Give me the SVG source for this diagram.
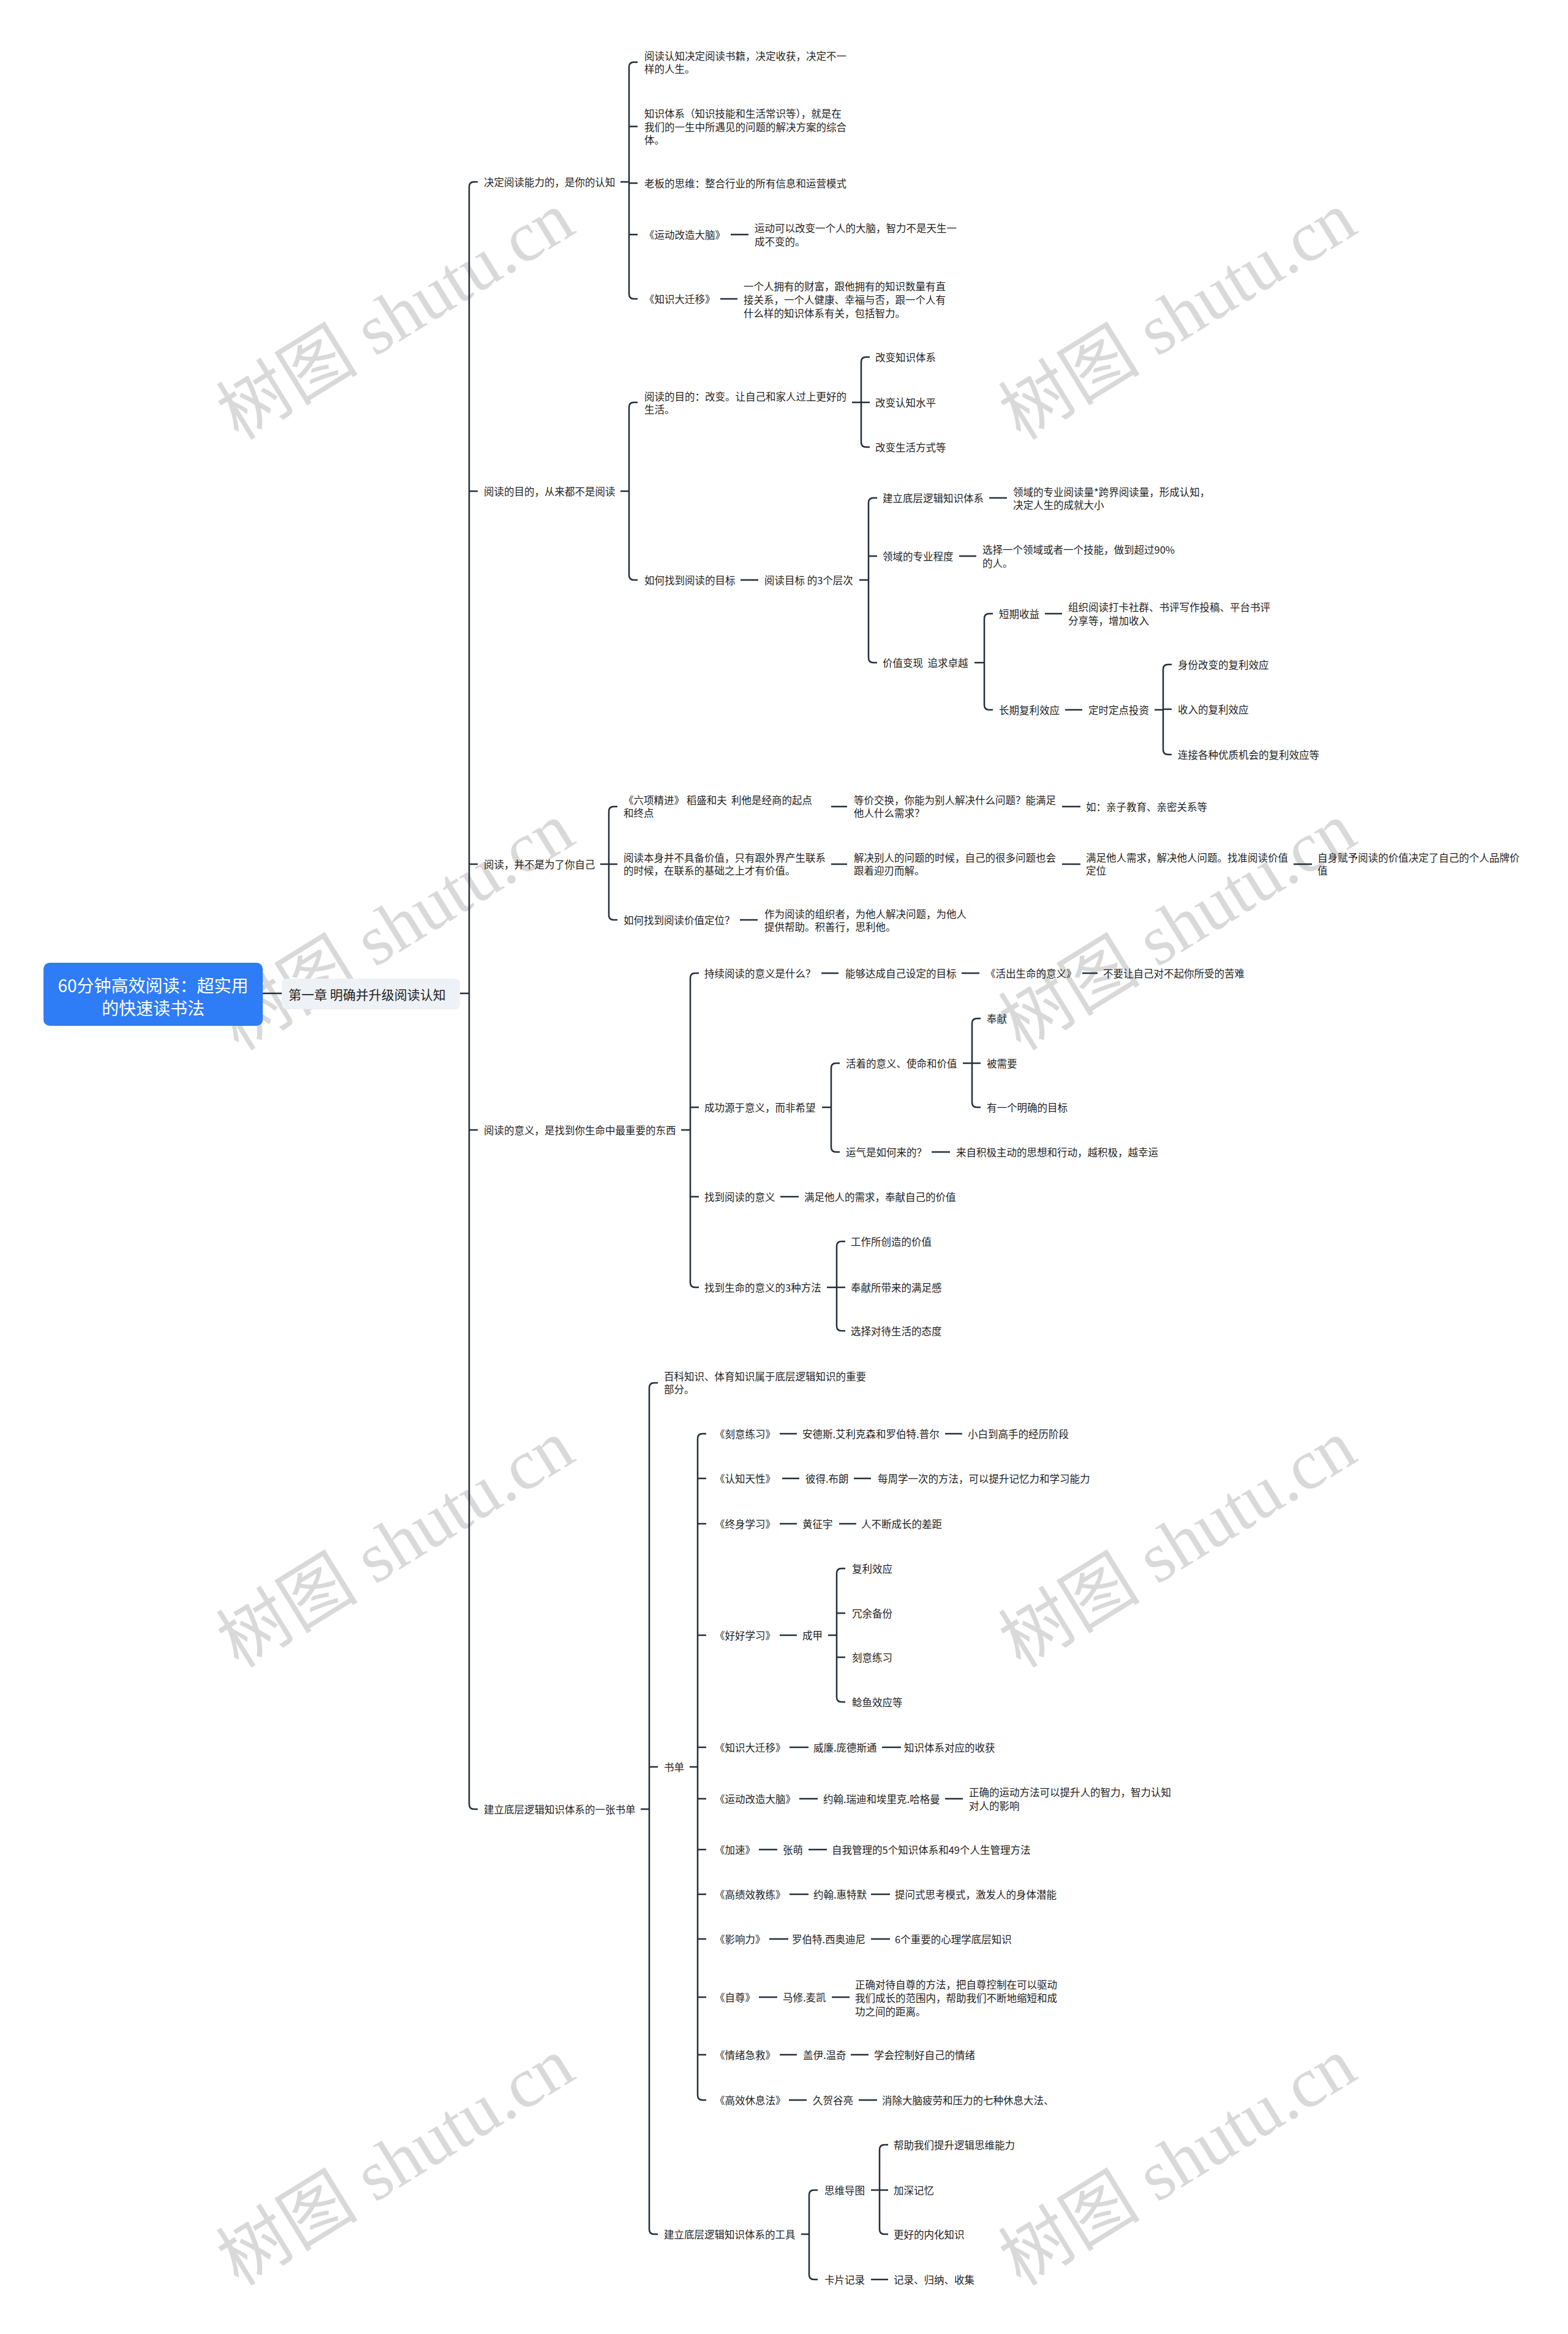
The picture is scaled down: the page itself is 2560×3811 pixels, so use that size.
<svg xmlns="http://www.w3.org/2000/svg" width="2560" height="3811" viewBox="0 0 2560 3811">
<style>
.t{font-family:"Noto Sans CJK SC","Noto Sans",sans-serif;font-size:16.5px;fill:#1e1e1e;dominant-baseline:central}
.c path{fill:none;stroke:#232e3b;stroke-width:2.5}
.wm{font-family:"Liberation Serif","Noto Sans CJK SC",serif;font-size:116px;fill:#d9d9d9}
</style>
<rect width="2560" height="3811" fill="#fff"/>
<g id="watermark">
<text class="wm" text-anchor="middle" dominant-baseline="central" transform="translate(646 516) rotate(-31.7)">树图 shutu.cn</text>
<text class="wm" text-anchor="middle" dominant-baseline="central" transform="translate(1923 516) rotate(-31.7)">树图 shutu.cn</text>
<text class="wm" text-anchor="middle" dominant-baseline="central" transform="translate(646 1513) rotate(-31.7)">树图 shutu.cn</text>
<text class="wm" text-anchor="middle" dominant-baseline="central" transform="translate(1923 1513) rotate(-31.7)">树图 shutu.cn</text>
<text class="wm" text-anchor="middle" dominant-baseline="central" transform="translate(646 2521) rotate(-31.7)">树图 shutu.cn</text>
<text class="wm" text-anchor="middle" dominant-baseline="central" transform="translate(1923 2521) rotate(-31.7)">树图 shutu.cn</text>
<text class="wm" text-anchor="middle" dominant-baseline="central" transform="translate(646 3530) rotate(-31.7)">树图 shutu.cn</text>
<text class="wm" text-anchor="middle" dominant-baseline="central" transform="translate(1923 3530) rotate(-31.7)">树图 shutu.cn</text>
</g>
<g class="c" id="connectors">
<path d="M429 1622H460M751 1622H766"/>
<path d="M780 297H774Q766 297 766 305V2946Q766 2954 774 2954H780M766 802H780M766 1411H780M766 1845H780"/>
<path d="M1013 297H1027M1041 101.5H1035Q1027 101.5 1027 109.5V480Q1027 488 1035 488H1041M1027 206.5H1041M1027 299H1041M1027 383H1041"/>
<path d="M1193 383H1222M1176 488H1204"/>
<path d="M1013 802H1027M1041 657H1035Q1027 657 1027 665V939Q1027 947 1035 947H1041"/>
<path d="M1391 657H1406M1420 583H1414Q1406 583 1406 591V722Q1406 730 1414 730H1420M1406 657H1420"/>
<path d="M1209 947H1238M1403 947H1418M1432 813H1426Q1418 813 1418 821V1074Q1418 1082 1426 1082H1432M1418 908H1432"/>
<path d="M1615 813H1644M1566 908H1594M1591 1082H1607M1621 1002H1615Q1607 1002 1607 1010V1151Q1607 1159 1615 1159H1621"/>
<path d="M1706 1002H1734M1739 1159H1767M1885 1159H1899M1913 1085H1907Q1899 1085 1899 1093V1224Q1899 1232 1907 1232H1913M1899 1158H1913"/>
<path d="M980 1411H994M1008 1317H1002Q994 1317 994 1325V1494Q994 1502 1002 1502H1008M994 1411H1008"/>
<path d="M1357 1317H1383M1734 1317H1764M1357 1411H1383M1734 1411H1764M2112 1411H2142M1208 1502H1237"/>
<path d="M1112 1845H1127M1141 1589H1135Q1127 1589 1127 1597V2094Q1127 2102 1135 2102H1141M1127 1808H1141M1127 1954H1141"/>
<path d="M1341 1589H1369M1570 1589H1599M1767 1589H1792"/>
<path d="M1342 1808H1357M1371 1736H1365Q1357 1736 1357 1744V1873Q1357 1881 1365 1881H1371"/>
<path d="M1572 1736H1587M1601 1663H1595Q1587 1663 1587 1671V1800Q1587 1808 1595 1808H1601M1587 1736H1601"/>
<path d="M1521 1881H1551M1274 1954H1304"/>
<path d="M1350 2102H1366M1380 2027H1374Q1366 2027 1366 2035V2165Q1366 2173 1374 2173H1380M1366 2102H1380"/>
<path d="M1046 2954H1060M1074 2258H1068Q1060 2258 1060 2266V3640Q1060 3648 1068 3648H1074M1060 2885H1074"/>
<path d="M1126 2885H1139M1153 2341H1147Q1139 2341 1139 2349V3421Q1139 3429 1147 3429H1153M1139 2414H1153M1139 2488H1153M1139 2670H1153M1139 2853H1153M1139 2937H1153M1139 3020H1153M1139 3093H1153M1139 3166H1153M1139 3261H1153M1139 3355H1153"/>
<path d="M1273 2341H1301M1543 2341H1571M1277 2414H1305M1394 2414H1422M1273 2488H1301M1370 2488H1398M1273 2670H1301"/>
<path d="M1352 2670H1366M1380 2561H1374Q1366 2561 1366 2569V2771Q1366 2779 1374 2779H1380M1366 2634H1380M1366 2706H1380"/>
<path d="M1289 2853H1320M1440 2853H1471M1305 2937H1335M1543 2937H1572M1239 3020H1269M1320 3020H1350M1289 3093H1320M1422 3093H1453M1256 3166H1287M1422 3166H1453M1239 3261H1269M1358 3261H1387M1273 3355H1301M1389 3355H1418M1288 3429H1317M1402 3429H1432"/>
<path d="M1308 3648H1321M1335 3576H1329Q1321 3576 1321 3584V3714Q1321 3722 1329 3722H1335"/>
<path d="M1422 3576H1436M1450 3502H1444Q1436 3502 1436 3510V3640Q1436 3648 1444 3648H1450M1436 3576H1450M1422 3722H1450"/>
</g>
<g id="root"><rect x="71" y="1572" width="358" height="103" rx="10" fill="#2e7cf6"/><text x="250" y="1608" text-anchor="middle" style="font-family:'Noto Sans CJK SC',sans-serif;font-size:28px;fill:#fff;dominant-baseline:central">60分钟高效阅读：超实用</text><text x="250" y="1645" text-anchor="middle" style="font-family:'Noto Sans CJK SC',sans-serif;font-size:28px;fill:#fff;dominant-baseline:central">的快速读书法</text></g>
<g id="chapter"><rect x="460" y="1598" width="291" height="50" rx="8" fill="#eef1f5"/><text class="t" x="471" y="1623" style="font-size:21px">第一章 明确并升级阅读认知</text></g>
<g id="n1"><text class="t" x="790" y="297">决定阅读能力的，是你的认知</text></g>
<g id="n2"><text class="t" x="790" y="802">阅读的目的，从来都不是阅读</text></g>
<g id="n3"><text class="t" x="790" y="1411">阅读，并不是为了你自己</text></g>
<g id="n4"><text class="t" x="790" y="1845">阅读的意义，是找到你生命中最重要的东西</text></g>
<g id="n5"><text class="t" x="790" y="2954">建立底层逻辑知识体系的一张书单</text></g>
<g id="n1a"><text class="t"><tspan x="1052" y="91">阅读认知决定阅读书籍，决定收获，决定不一</tspan><tspan x="1052" y="112">样的人生。</tspan></text></g>
<g id="n1b"><text class="t"><tspan x="1052" y="185">知识体系（知识技能和生活常识等），就是在</tspan><tspan x="1052" y="206.5">我们的一生中所遇见的问题的解决方案的综合</tspan><tspan x="1052" y="228">体。</tspan></text></g>
<g id="n1c"><text class="t" x="1052" y="299">老板的思维：整合行业的所有信息和运营模式</text></g>
<g id="n1d"><text class="t" x="1052" y="383">《运动改造大脑》</text></g>
<g id="n1d1"><text class="t"><tspan x="1232" y="372">运动可以改变一个人的大脑，智力不是天生一</tspan><tspan x="1232" y="394">成不变的。</tspan></text></g>
<g id="n1e"><text class="t" x="1052" y="488">《知识大迁移》</text></g>
<g id="n1e1"><text class="t"><tspan x="1214" y="467">一个人拥有的财富，跟他拥有的知识数量有直</tspan><tspan x="1214" y="489">接关系，一个人健康、幸福与否，跟一个人有</tspan><tspan x="1214" y="511">什么样的知识体系有关，包括智力。</tspan></text></g>
<g id="n2a"><text class="t"><tspan x="1052" y="646.5">阅读的目的：改变。让自己和家人过上更好的</tspan><tspan x="1052" y="668">生活。</tspan></text></g>
<g id="n2a1"><text class="t" x="1429" y="583">改变知识体系</text></g>
<g id="n2a2"><text class="t" x="1429" y="657">改变认知水平</text></g>
<g id="n2a3"><text class="t" x="1429" y="730">改变生活方式等</text></g>
<g id="n2b"><text class="t" x="1052" y="947">如何找到阅读的目标</text></g>
<g id="n2b1"><text class="t" x="1248" y="947">阅读目标 的3个层次</text></g>
<g id="n2c1"><text class="t" x="1441" y="813">建立底层逻辑知识体系</text></g>
<g id="n2c1a"><text class="t"><tspan x="1654" y="803">领域的专业阅读量*跨界阅读量，形成认知，</tspan><tspan x="1654" y="824">决定人生的成就大小</tspan></text></g>
<g id="n2c2"><text class="t" x="1441" y="908">领域的专业程度</text></g>
<g id="n2c2a"><text class="t"><tspan x="1604" y="897">选择一个领域或者一个技能，做到超过90%</tspan><tspan x="1604" y="919">的人。</tspan></text></g>
<g id="n2c3"><text class="t" x="1441" y="1082" xml:space="preserve">价值变现  追求卓越</text></g>
<g id="n2c3a"><text class="t" x="1631" y="1002">短期收益</text></g>
<g id="n2c3a1"><text class="t"><tspan x="1744" y="991">组织阅读打卡社群、书评写作投稿、平台书评</tspan><tspan x="1744" y="1013">分享等，增加收入</tspan></text></g>
<g id="n2c3b"><text class="t" x="1631" y="1159">长期复利效应</text></g>
<g id="n2c3b1"><text class="t" x="1777" y="1159">定时定点投资</text></g>
<g id="n2c3b1a"><text class="t" x="1923" y="1085">身份改变的复利效应</text></g>
<g id="n2c3b1b"><text class="t" x="1923" y="1158">收入的复利效应</text></g>
<g id="n2c3b1c"><text class="t" x="1923" y="1232">连接各种优质机会的复利效应等</text></g>
<g id="n3a"><text class="t" xml:space="preserve"><tspan x="1018" y="1306">《六项精进》 稻盛和夫  利他是经商的起点</tspan><tspan x="1018" y="1327">和终点</tspan></text></g>
<g id="n3a1"><text class="t"><tspan x="1394" y="1306">等价交换，你能为别人解决什么问题？能满足</tspan><tspan x="1394" y="1327">他人什么需求？</tspan></text></g>
<g id="n3a2"><text class="t" x="1773" y="1317">如：亲子教育、亲密关系等</text></g>
<g id="n3b"><text class="t"><tspan x="1018" y="1400">阅读本身并不具备价值，只有跟外界产生联系</tspan><tspan x="1018" y="1421">的时候，在联系的基础之上才有价值。</tspan></text></g>
<g id="n3b1"><text class="t"><tspan x="1394" y="1400">解决别人的问题的时候，自己的很多问题也会</tspan><tspan x="1394" y="1421">跟着迎刃而解。</tspan></text></g>
<g id="n3b2"><text class="t"><tspan x="1773" y="1400">满足他人需求，解决他人问题。找准阅读价值</tspan><tspan x="1773" y="1421">定位</tspan></text></g>
<g id="n3b3"><text class="t"><tspan x="2151" y="1400">自身赋予阅读的价值决定了自己的个人品牌价</tspan><tspan x="2151" y="1421">值</tspan></text></g>
<g id="n3c"><text class="t" x="1018" y="1502">如何找到阅读价值定位？</text></g>
<g id="n3c1"><text class="t"><tspan x="1248" y="1492">作为阅读的组织者，为他人解决问题，为他人</tspan><tspan x="1248" y="1513">提供帮助。积善行，思利他。</tspan></text></g>
<g id="n4a"><text class="t" x="1150" y="1589">持续阅读的意义是什么？</text></g>
<g id="n4a1"><text class="t" x="1380" y="1589">能够达成自己设定的目标</text></g>
<g id="n4a2"><text class="t" x="1609" y="1589">《活出生命的意义》</text></g>
<g id="n4a3"><text class="t" x="1801" y="1589">不要让自己对不起你所受的苦难</text></g>
<g id="n4b"><text class="t" x="1150" y="1808">成功源于意义，而非希望</text></g>
<g id="n4b1"><text class="t" x="1381" y="1736">活着的意义、使命和价值</text></g>
<g id="n4b1a"><text class="t" x="1611" y="1663">奉献</text></g>
<g id="n4b1b"><text class="t" x="1611" y="1736">被需要</text></g>
<g id="n4b1c"><text class="t" x="1611" y="1808">有一个明确的目标</text></g>
<g id="n4b2"><text class="t" x="1381" y="1881">运气是如何来的？</text></g>
<g id="n4b2a"><text class="t" x="1561" y="1881">来自积极主动的思想和行动，越积极，越幸运</text></g>
<g id="n4c"><text class="t" x="1150" y="1954">找到阅读的意义</text></g>
<g id="n4c1"><text class="t" x="1313" y="1954">满足他人的需求，奉献自己的价值</text></g>
<g id="n4d"><text class="t" x="1150" y="2102">找到生命的意义的3种方法</text></g>
<g id="n4d1"><text class="t" x="1389" y="2027">工作所创造的价值</text></g>
<g id="n4d2"><text class="t" x="1389" y="2102">奉献所带来的满足感</text></g>
<g id="n4d3"><text class="t" x="1389" y="2173">选择对待生活的态度</text></g>
<g id="n5a"><text class="t"><tspan x="1084" y="2247">百科知识、体育知识属于底层逻辑知识的重要</tspan><tspan x="1084" y="2268">部分。</tspan></text></g>
<g id="n5b"><text class="t" x="1084" y="2885">书单</text></g>
<g id="b1"><text class="t" x="1167" y="2341">《刻意练习》</text><text class="t" x="1310" y="2341">安德斯.艾利克森和罗伯特.普尔</text><text class="t" x="1580" y="2341">小白到高手的经历阶段</text></g>
<g id="b2"><text class="t" x="1167" y="2414">《认知天性》</text><text class="t" x="1315" y="2414">彼得.布朗</text><text class="t" x="1433" y="2414">每周学一次的方法，可以提升记忆力和学习能力</text></g>
<g id="b3"><text class="t" x="1167" y="2488">《终身学习》</text><text class="t" x="1310" y="2488">黄征宇</text><text class="t" x="1406" y="2488">人不断成长的差距</text></g>
<g id="b4"><text class="t" x="1167" y="2670">《好好学习》</text><text class="t" x="1310" y="2670">成甲</text></g>
<g id="b4a"><text class="t" x="1391" y="2561">复利效应</text></g>
<g id="b4b"><text class="t" x="1391" y="2634">冗余备份</text></g>
<g id="b4c"><text class="t" x="1391" y="2706">刻意练习</text></g>
<g id="b4d"><text class="t" x="1391" y="2779">鲶鱼效应等</text></g>
<g id="b5"><text class="t" x="1167" y="2853">《知识大迁移》</text><text class="t" x="1328" y="2853">威廉.庞德斯通</text><text class="t" x="1476" y="2853">知识体系对应的收获</text></g>
<g id="b6"><text class="t" x="1167" y="2937">《运动改造大脑》</text><text class="t" x="1344" y="2937">约翰.瑞迪和埃里克.哈格曼</text><text class="t"><tspan x="1582" y="2926">正确的运动方法可以提升人的智力，智力认知</tspan><tspan x="1582" y="2948">对人的影响</tspan></text></g>
<g id="b7"><text class="t" x="1167" y="3020">《加速》</text><text class="t" x="1278" y="3020">张萌</text><text class="t" x="1358" y="3020">自我管理的5个知识体系和49个人生管理方法</text></g>
<g id="b8"><text class="t" x="1167" y="3093">《高绩效教练》</text><text class="t" x="1328" y="3093">约翰.惠特默</text><text class="t" x="1461" y="3093">提问式思考模式，激发人的身体潜能</text></g>
<g id="b9"><text class="t" x="1167" y="3166">《影响力》</text><text class="t" x="1293" y="3166">罗伯特.西奥迪尼</text><text class="t" x="1461" y="3166">6个重要的心理学底层知识</text></g>
<g id="b10"><text class="t" x="1167" y="3261">《自尊》</text><text class="t" x="1278" y="3261">马修.麦凯</text><text class="t"><tspan x="1396" y="3240">正确对待自尊的方法，把自尊控制在可以驱动</tspan><tspan x="1396" y="3262">我们成长的范围内，帮助我们不断地缩短和成</tspan><tspan x="1396" y="3284">功之间的距离。</tspan></text></g>
<g id="b11"><text class="t" x="1167" y="3355">《情绪急救》</text><text class="t" x="1311" y="3355">盖伊.温奇</text><text class="t" x="1427" y="3355">学会控制好自己的情绪</text></g>
<g id="b12"><text class="t" x="1167" y="3429">《高效休息法》</text><text class="t" x="1327" y="3429">久贺谷亮</text><text class="t" x="1440" y="3429">消除大脑疲劳和压力的七种休息大法、</text></g>
<g id="n5c"><text class="t" x="1084" y="3648">建立底层逻辑知识体系的工具</text></g>
<g id="n5c1"><text class="t" x="1346" y="3576">思维导图</text></g>
<g id="n5c1a"><text class="t" x="1459" y="3502">帮助我们提升逻辑思维能力</text></g>
<g id="n5c1b"><text class="t" x="1459" y="3576">加深记忆</text></g>
<g id="n5c1c"><text class="t" x="1459" y="3648">更好的内化知识</text></g>
<g id="n5c2"><text class="t" x="1346" y="3722">卡片记录</text></g>
<g id="n5c2a"><text class="t" x="1459" y="3722">记录、归纳、收集</text></g>
</svg>
